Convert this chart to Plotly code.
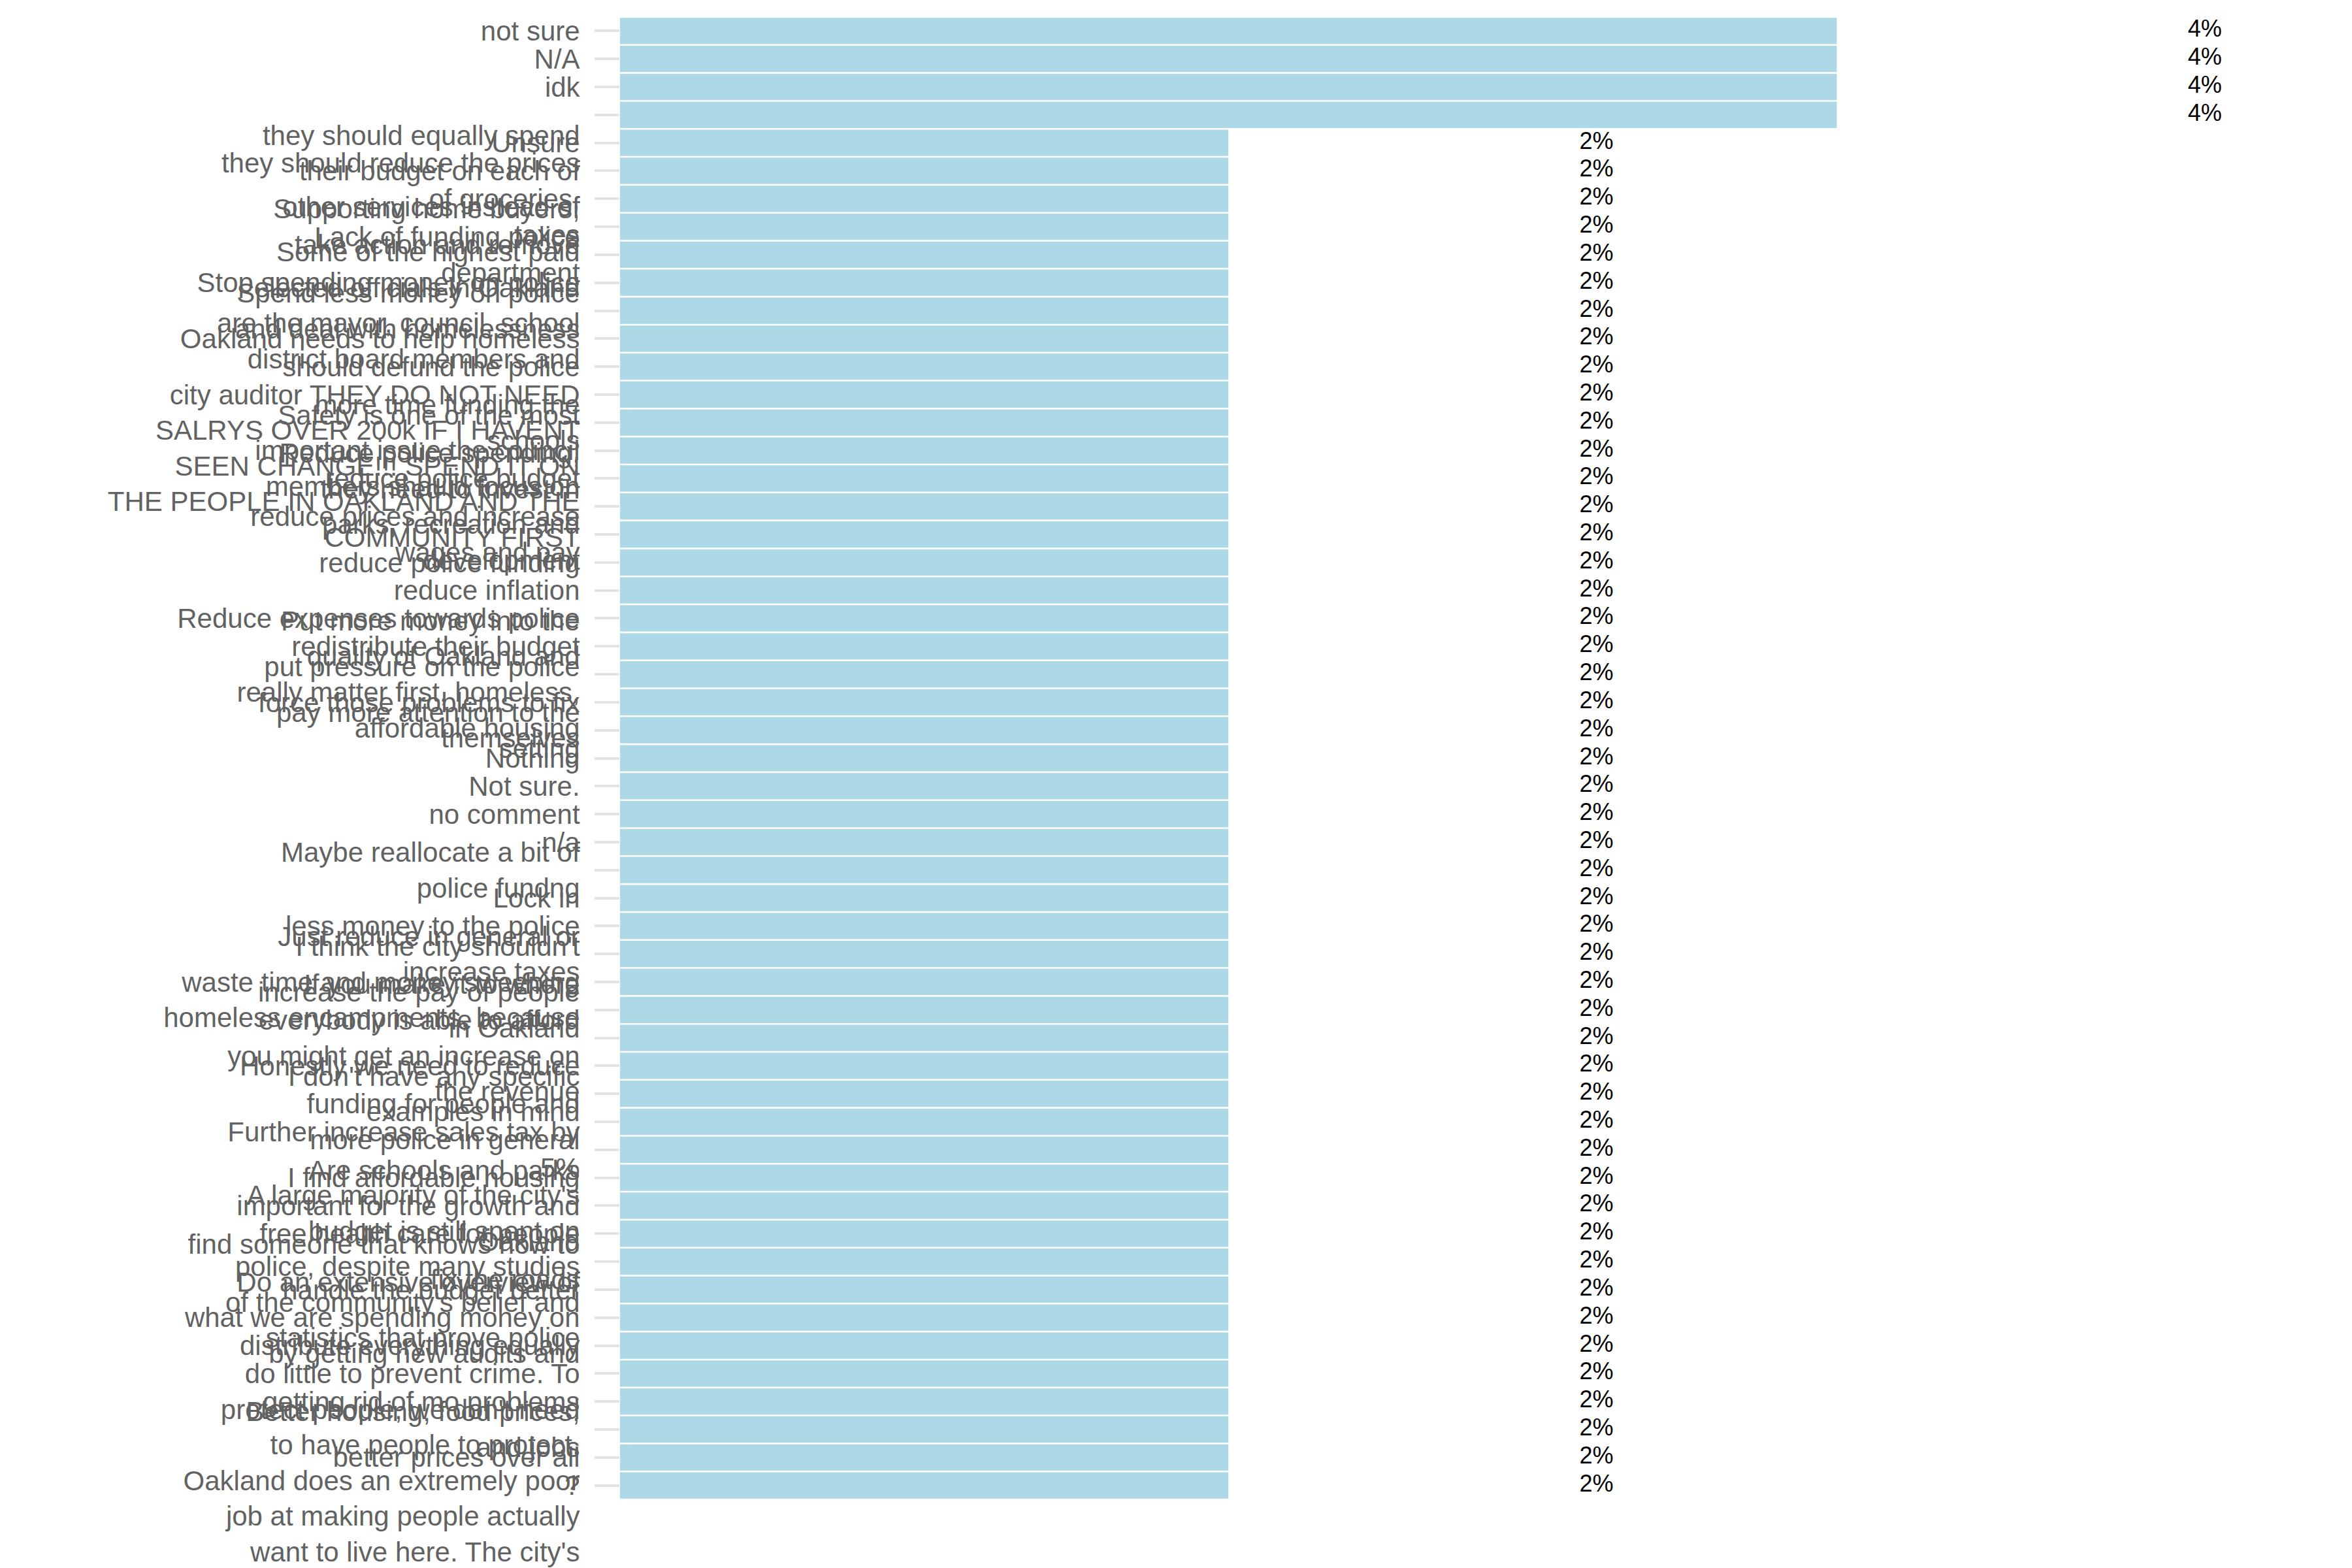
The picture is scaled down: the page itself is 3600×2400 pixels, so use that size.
import plotly.graph_objects as go

# ---- data ----
responses = [
    "not sure",
    "N/A",
    "idk",
    "",
    "Unsure",
    "they should equally spend<br>their budget on each of<br>other services instead of",
    "they should reduce the prices<br>of groceries,<br>taxes",
    "Supporting home buyers,<br>take action and remove",
    "Lack of funding police<br>department",
    "Stop spending money on police",
    "Spend less money on police<br>and deal with homelessness",
    "Oakland needs to help homeless",
    "should defund the police",
    "Some of the highest paid<br>elected officials in Oakland<br>are the mayor, council, school<br>district board members and<br>city auditor THEY DO NOT NEED<br>SALRYS OVER 200k IF I HAVENT<br>SEEN CHANGE!!! SPEND IT ON<br>THE PEOPLE IN OAKLAND AND THE<br>COMMUNITY FIRST",
    "more time funding the<br>schools",
    "Safety is one of the most<br>important issue the council<br>members should focus on",
    "reduce police budget",
    "Reduce police spending,<br>they need to invest in<br>parks, recreation and<br>development",
    "reduce prices and increase<br>wages and pay",
    "reduce police funding",
    "reduce inflation",
    "Reduce expenses towards police",
    "redistribute their budget",
    "Put more money into the<br>quality of Oakland and<br>really matter first, homeless,<br>affordable housing",
    "put pressure on the police<br>force those problems to fix<br>themselves",
    "pay more attention to the<br>setting",
    "Nothing",
    "Not sure.",
    "no comment",
    "n/a",
    "Maybe reallocate a bit of<br>police fundng",
    "Lock in",
    "less money to the police",
    "Just reduce in general or<br>increase taxes",
    "I think the city shouldn't<br>waste time and money sweeping<br>homeless encampments, because",
    "increase the pay of people<br>in Oakland",
    "If you make it to where<br>everybody is able to afford<br>you might get an increase on<br>the revenue",
    "Honestly we need to reduce",
    "I don't have any specific<br>examples in mind",
    "funding for people and<br>more police in general",
    "Further increase sales tax by<br>5%",
    "I find affordable housing",
    "Are schools and parks<br>important for the growth and<br>Oakland",
    "free health care for people",
    "find someone that knows how to<br>fix the roads",
    "handle the budget better",
    "Do an extensive overview of<br>what we are spending money on<br>by getting new audits and",
    "distribute everything equally",
    "A large majority of the city's<br>budget is still spent on<br>police, despite many studies<br>of the community's belief and<br>statistics that prove police<br>do little to prevent crime. To<br>protect people, we don't need<br>to have people to protect.<br>Oakland does an extremely poor<br>job at making people actually<br>want to live here. The city's",
    "getting rid of mo problems",
    "Better housing, food prices,<br>and jobs",
    "better prices over all",
    "?",
]

percent = [
    4, 4, 4, 4,
    2, 2, 2, 2, 2, 2, 2, 2, 2, 2,
    2, 2, 2, 2, 2, 2, 2, 2, 2, 2,
    2, 2, 2, 2, 2, 2, 2, 2, 2, 2,
    2, 2, 2, 2, 2, 2, 2, 2, 2, 2,
    2, 2, 2, 2, 2, 2, 2, 2, 2,
]

value_labels = [f"{v}%" for v in percent]

# ---- style ----
LABEL_NUDGE = 1.21
FONT = "Liberation Sans, Arial, sans-serif"

positions = list(range(len(responses)))

fig = go.Figure()
fig.add_trace(go.Bar(
    x=percent,
    y=positions,
    orientation="h",
    marker=dict(color="#ADD8E6", line=dict(width=0)),
    hoverinfo="skip",
    showlegend=False,
))
fig.add_trace(go.Scatter(
    x=[v + LABEL_NUDGE for v in percent],
    y=positions,
    mode="text",
    text=value_labels,
    textposition="middle center",
    textfont=dict(family=FONT, size=36, color="#000000"),
    hoverinfo="skip",
    showlegend=False,
))

fig.update_layout(
    width=3600,
    height=2400,
    margin=dict(l=941, r=47, t=18, b=113, autoexpand=False),
    paper_bgcolor="white",
    plot_bgcolor="white",
    bargap=0.06,
    xaxis=dict(
        range=[0, 5.61],
        showticklabels=False,
        showgrid=False,
        zeroline=False,
        showline=False,
        ticks="",
        fixedrange=True,
    ),
    yaxis=dict(
        range=[len(responses) - 0.5, -0.5],
        tickmode="array",
        tickvals=positions,
        ticktext=responses,
        ticks="outside",
        ticklen=38,
        tickwidth=4,
        tickcolor="#E3E3E3",
        ticklabelstandoff=14,
        ticklabeloverflow="allow",
        tickfont=dict(family=FONT, size=42, color="#626262"),
        showgrid=False,
        zeroline=False,
        showline=False,
        automargin=False,
    ),
)

fig.write_html("out.html")
